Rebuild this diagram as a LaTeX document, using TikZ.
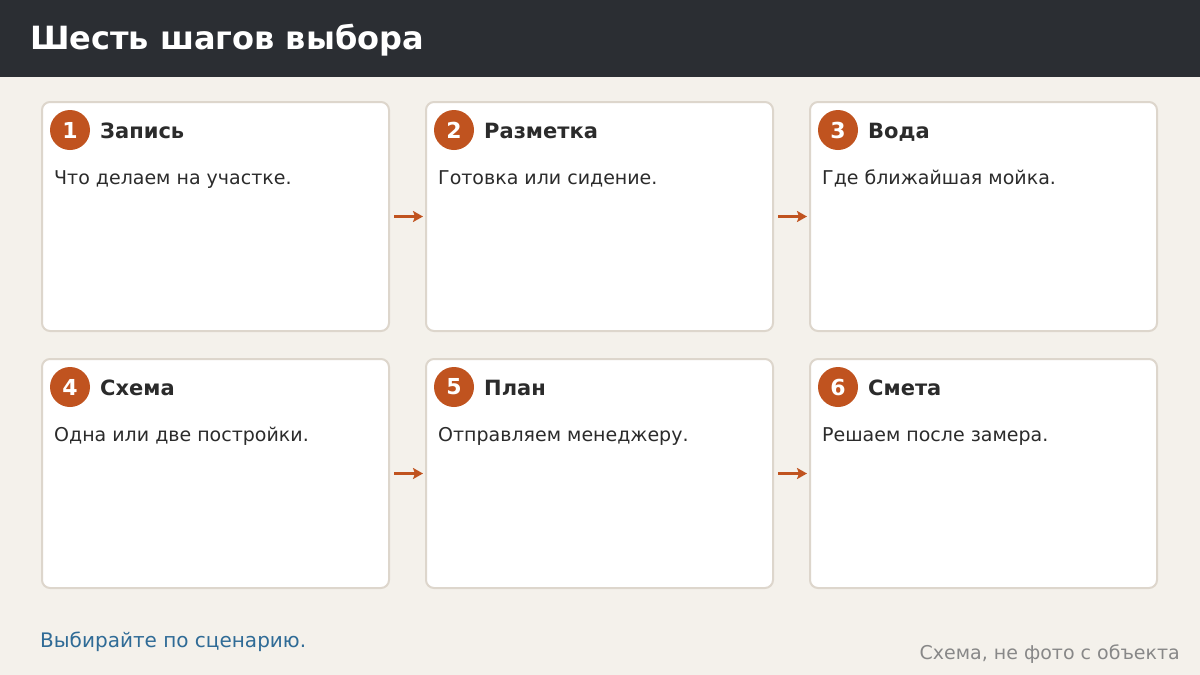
\documentclass[tikz,border=0pt]{standalone}
\usepackage{fontspec}
\setmainfont{DejaVu Sans}
\usetikzlibrary{arrows.meta,positioning}
\definecolor{headbg}{HTML}{2B2E33}
\definecolor{pagebg}{HTML}{F4F1EB}
\definecolor{cardline}{HTML}{DDD6CC}
\definecolor{rust}{HTML}{C0531F}
\definecolor{ink}{HTML}{2B2B2B}
\definecolor{linkblue}{HTML}{2F6B96}
\definecolor{muted}{HTML}{888888}
\tikzset{>={Stealth[width=11pt,length=10pt,inset=2pt]}}
\tikzset{card/.style={shape=rectangle, draw=cardline, fill=white, line width=2pt,
    rounded corners=8pt, minimum width=347pt, minimum height=229pt, anchor=north west}}
\tikzset{numdot/.style={shape=circle, fill=rust, text=white, inner sep=0pt,
    minimum size=40pt, font=\fontsize{22}{24}\selectfont\bfseries}}
\tikzset{steptitle/.style={inner sep=0pt, text=ink, anchor=base west,
    font=\fontsize{21}{25}\selectfont\bfseries}}
\tikzset{steptext/.style={inner sep=0pt, text=ink, anchor=base west, font=\fontsize{19}{23}\selectfont}}
\tikzset{flow/.style={->, draw=rust, line width=3.5pt, shorten <=4pt, shorten >=2pt}}

\begin{document}
\begin{tikzpicture}[x=1pt, y=-1pt]
    \useasboundingbox (0,0) rectangle (1200,675);
    \fill[pagebg] (0,0) rectangle (1200,675);
    \fill[headbg] (0,0) rectangle (1200,77);
    \node[anchor=base west, inner sep=0pt, text=white,
      font=\fontsize{32}{36}\selectfont\bfseries] (title) at (30,49) {Шесть шагов выбора};

    \foreach \i/\x/\y/\head/\body in {
      1/41/101/Запись/Что делаем на участке.,
      2/425/101/Разметка/Готовка или сидение.,
      3/809/101/Вода/Где ближайшая мойка.,
      4/41/358/Схема/Одна или две постройки.,
      5/425/358/План/Отправляем менеджеру.,
      6/809/358/Смета/Решаем после замера.}
    {
      \node[card] (c\i) at (\x,\y) {};
      \node[numdot] (n\i) at (\x+29,\y+29) {\i};
      \node[steptitle] (h\i) at (\x+59,\y+37) {\head};
      \node[steptext] (t\i) at (\x+13,\y+83) {\body};
    }

    \draw[flow] (c1.east) -- (c2.west);
    \draw[flow] (c2.east) -- (c3.west);
    \draw[flow] (c4.east) -- (c5.west);
    \draw[flow] (c5.east) -- (c6.west);

    \node[anchor=base west, inner sep=0pt, text=linkblue,
      font=\fontsize{20}{24}\selectfont] (lead) at (40,647) {Выбирайте по сценарию.};
    \node[anchor=base east, inner sep=0pt, text=muted,
      font=\fontsize{19}{23}\selectfont] (note) at (1180,659) {Схема, не фото с объекта};
  \end{tikzpicture}
\end{document}
